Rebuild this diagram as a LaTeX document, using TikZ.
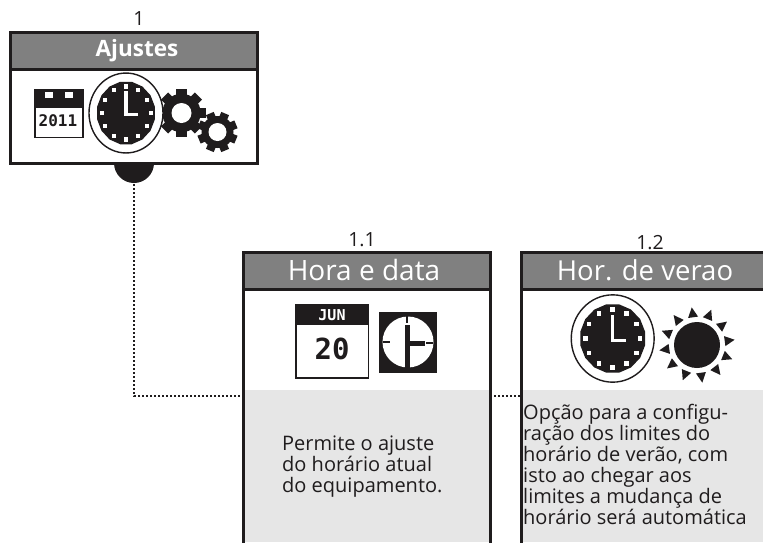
\documentclass[tikz,border=0pt]{standalone}
\usepackage{fontspec}
\setmainfont{Open Sans}
\newfontfamily\pixfont{DejaVu Sans Mono}
\definecolor{hdr}{HTML}{808080}
\definecolor{pane}{HTML}{E6E6E6}
\definecolor{ink}{HTML}{1F1C1D}
\tikzset{
  x=1pt,y=-1pt,
  frame/.style={draw=ink,line width=3pt,fill=white,rectangle,inner sep=0,outer sep=0,anchor=north west},
  header/.style={draw=ink,line width=3pt,fill=hdr,rectangle,inner sep=0,outer sep=0,anchor=north west},
  hdrtext/.style={text=white,inner sep=0,anchor=center},
  numlabel/.style={text=ink,inner sep=0,font=\fontsize{19.5}{22}\selectfont,anchor=center},
  bodytext/.style={text=ink,inner sep=0,align=left,anchor=north west,font=\fontsize{20}{21}\selectfont},
  link/.style={draw=ink,line width=2pt,dash pattern=on 2pt off 2pt},
}
% clock: centre, horizontal radius scale, vertical radius scale
\newcommand{\clockicon}[4]{%
\begin{scope}[shift={(#1,#2)},xscale=#3,yscale=#4]
  \draw[ink,line width=1.4pt,fill=white] (0,0) circle[radius=37];
  \fill[ink] (11.25:29.5) \foreach \a in {33.75,56.25,...,348.75}{-- (\a:29.5)} -- cycle;
  \foreach \a in {0,30,...,330}{\fill[white] (\a:24.5) ++(-2,-2) rectangle ++(4,4);}
  \draw[white,line width=3.4pt] (0,-20) -- (0,1.5) -- (12,1.5);
\end{scope}}
\newcommand{\gearicon}[5]{%
\begin{scope}[shift={(#1,#2)}]
  \fill[ink] (0,0) circle[radius=#3*0.8];
  \foreach \a in {0,45,...,315}{\fill[ink,rotate=\a+#5] (#3*0.6,-#3*0.21) rectangle (#3,#3*0.21);}
  \fill[white] (0,0) circle[radius=#4];
\end{scope}}
\begin{document}
\begin{tikzpicture}
\useasboundingbox (0,0) rectangle (763,542);
\node[fill=ink,circle,minimum size=40pt,inner sep=0] (stub) at (134,163) {};
\node[frame,minimum width=247pt,minimum height=131pt] (b1) at (10,32) {};
\node[header,minimum width=247pt,minimum height=37pt] (h1) at (10,32) {};
\coordinate (bend) at (134,396);
\coordinate (stubend) at (134,184);
\node[frame,minimum width=247pt,minimum height=295pt] (b11) at (243,252) {};
\node[frame,minimum width=247pt,minimum height=295pt] (b12) at (521,252) {};
\fill[pane] (244.5,390) rectangle (488.5,542);
\fill[pane] (522.5,390) rectangle (763,542);
\node[header,minimum width=247pt,minimum height=37pt] (h11) at (243,252) {};
\node[header,minimum width=247pt,minimum height=37pt] (h12) at (521,252) {};
\coordinate (l11) at (243,396);
\coordinate (r11) at (490,396);
\coordinate (l12) at (521,396);
\draw[link] (stubend) -- (bend) -- (l11);
\draw[link] (r11) -- (l12);
% labels
\node[numlabel] (n1) at (139,19) {1};
\node[numlabel] (n11) at (362,240) {1.1};
\node[numlabel] (n12) at (650,243) {1.2};
\node[hdrtext,font=\fontsize{22.5}{26}\selectfont\bfseries] (t1) at (137,51) {Ajustes};
\node[hdrtext,font=\fontsize{28}{32}\selectfont] (t11) at (364,270) {Hora e data};
\node[hdrtext,font=\fontsize{27.5}{32}\selectfont] (t12) at (645,270) {Hor. de verao};
\node[bodytext] (d11) at (282,436) {Permite o ajuste\\do horário atual\\do equipamento.};
\node[bodytext] (d12) at (523,404) {Opção para a configu-\\ração dos limites do\\horário de verão, com\\isto ao chegar aos\\limites a mudança de\\horário será automática};
% icon set 1
\draw[ink,line width=1.5pt,fill=white] (35,90) rectangle (83,137.5);
\fill[ink] (35,90) rectangle (83,108);
\fill[white] (45,92) rectangle (53,98);
\fill[white] (65,92) rectangle (73,98);
\node[inner sep=0,text=ink,font=\pixfont\bfseries\fontsize{16}{16}\selectfont] (y1) at (58,120.5) {2011};
\gearicon{181.5}{113}{24}{10}{0}
\gearicon{217.5}{132}{20}{9}{22.5}
\clockicon{126}{113}{1}{1.08}
% icon set 2
\draw[ink,line width=1.5pt,fill=white] (296,305) rectangle (368.5,378);
\fill[ink] (296,305) rectangle (368.5,325);
\node[inner sep=0,text=white,font=\pixfont\bfseries\fontsize{15}{15}\selectfont] (jun) at (332,315) {JUN};
\node[inner sep=0,text=ink,font=\pixfont\bfseries\fontsize{29}{29}\selectfont] (day) at (332,349) {20};
\fill[ink] (379,312) rectangle (437,373);
\fill[white] (408,342) circle[radius=25.5];
\draw[ink,line width=5pt] (407,325) -- (407,368);
\draw[ink,line width=5pt] (407,343) -- (425,343);
\draw[ink,line width=2pt] (383,342) -- (390,342) (426,343) -- (433,343);
\draw[ink,line width=2pt] (407,316) -- (407,323);
% icon set 3
\clockicon{612.7}{338.5}{1.12}{1.18}
\fill[ink] (697,345) circle[radius=23];
\foreach \a in {0,30,...,330}{
  \fill[ink,shift={(697,345)},rotate=\a+8] (28,-5) -- (38,0) -- (28,5) -- cycle;
}
\end{tikzpicture}
\end{document}
